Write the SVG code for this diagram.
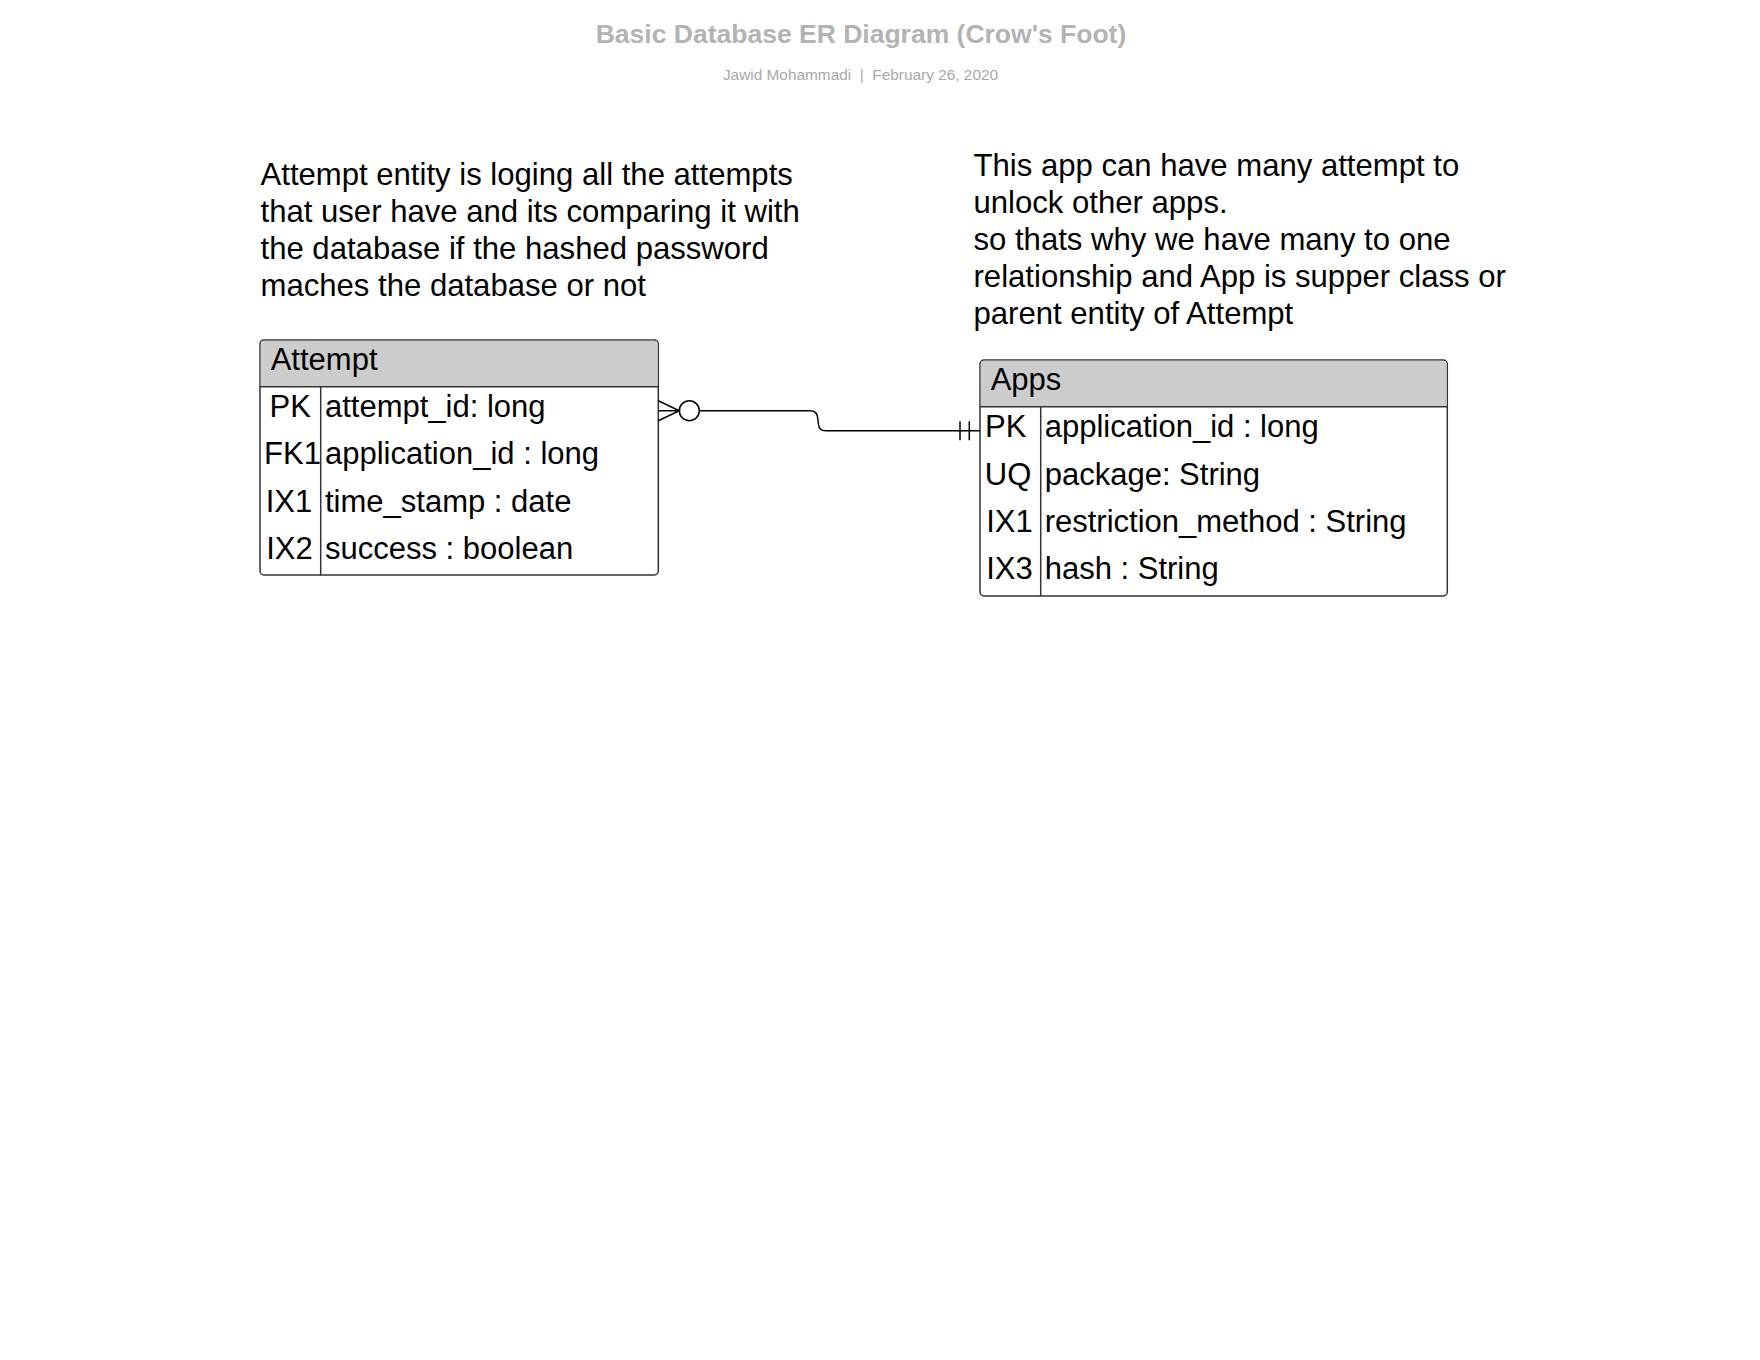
<svg xmlns="http://www.w3.org/2000/svg" width="1760" height="1360" viewBox="0 0 1760 1360">
<style>
text{font-family:"Liberation Sans",Arial,sans-serif;fill:#000}
.title{font-size:26.5px;font-weight:bold;fill:#b3b3b3}
.sub{font-size:15.4px;fill:#a8a8a8}
.note{font-size:31.1px}
.cell{font-size:31px}
.key{font-size:31px;text-anchor:middle}
.box{fill:#fff;stroke:#333;stroke-width:1.5}
.hdr{fill:#ccc;stroke:none}
.ln{stroke:#333;stroke-width:1.5;fill:none}
.con{stroke:#000;stroke-width:1.5;fill:none}
</style>
<rect width="1760" height="1360" fill="#fff"/>
<g id="title">
<text class="title" x="861" y="42.7" text-anchor="middle">Basic Database ER Diagram (Crow's Foot)</text>
<text class="sub" x="860.5" y="80" text-anchor="middle">Jawid Mohammadi&#160;&#160;|&#160;&#160;February 26, 2020</text>
</g>
<g id="note-attempt">
<text class="note" x="260.5" y="184.6">Attempt entity is loging all the attempts</text>
<text class="note" x="260.5" y="221.8">that user have and its comparing it with</text>
<text class="note" x="260.5" y="259">the database if the hashed password</text>
<text class="note" x="260.5" y="296.2">maches the database or not</text>
</g>
<g id="note-apps">
<text class="note" x="973.5" y="176">This app can have many attempt to</text>
<text class="note" x="973.5" y="213">unlock other apps.</text>
<text class="note" x="973.5" y="250">so thats why we have many to one</text>
<text class="note" x="973.5" y="287">relationship and App is supper class or</text>
<text class="note" x="973.5" y="324">parent entity of Attempt</text>
</g>
<g id="entity-attempt">
<rect class="box" x="260" y="340" width="398.3" height="235" rx="4"/>
<path class="hdr" d="M264,340.75 H654.3 A3.25,3.25 0 0 1 657.55,344 V386.7 H260.75 V344 A3.25,3.25 0 0 1 264,340.75 Z"/>
<path class="ln" d="M260,386.7 H658.3 M320.7,386.7 V575"/>
<text class="cell" x="270.7" y="370.4">Attempt</text>
<text class="key" x="290.3" y="417.3">PK</text>
<text class="key" x="292.5" y="464.4">FK1</text>
<text class="key" x="289" y="511.5">IX1</text>
<text class="key" x="289.5" y="558.6">IX2</text>
<text class="cell" x="325" y="417.3">attempt_id: long</text>
<text class="cell" x="325" y="464.4">application_id : long</text>
<text class="cell" x="325" y="511.5">time_stamp : date</text>
<text class="cell" x="325" y="558.6">success : boolean</text>
</g>
<g id="entity-apps">
<rect class="box" x="980" y="360" width="467.3" height="236" rx="4"/>
<path class="hdr" d="M984,360.75 H1443.3 A3.25,3.25 0 0 1 1446.55,364 V406.7 H980.75 V364 A3.25,3.25 0 0 1 984,360.75 Z"/>
<path class="ln" d="M980,406.7 H1447.3 M1040.7,406.7 V596"/>
<text class="cell" x="990.7" y="390.4">Apps</text>
<text class="cell" x="985" y="437.3">PK</text>
<text class="key" x="1008" y="484.6">UQ</text>
<text class="key" x="1009.5" y="531.9">IX1</text>
<text class="key" x="1009.5" y="579.2">IX3</text>
<text class="cell" x="1044.7" y="437.3">application_id : long</text>
<text class="cell" x="1044.7" y="484.6">package: String</text>
<text class="cell" x="1044.7" y="531.9">restriction_method : String</text>
<text class="cell" x="1044.7" y="579.2">hash : String</text>
</g>
<g id="connectors">
<path class="con" d="M658.3,400.7 L679.3,410.7 L658.3,420.7 M658.3,410.7 H679.3"/>
<circle class="con" cx="689.3" cy="410.7" r="10"/>
<path class="con" d="M699.3,410.7 H810 Q817,410.7 817.5,417 L818.5,424.5 Q819,430.7 826,430.7 H980"/>
<path class="con" d="M960,421.2 V440.2 M969.3,421.2 V440.2"/>
</g>
</svg>
